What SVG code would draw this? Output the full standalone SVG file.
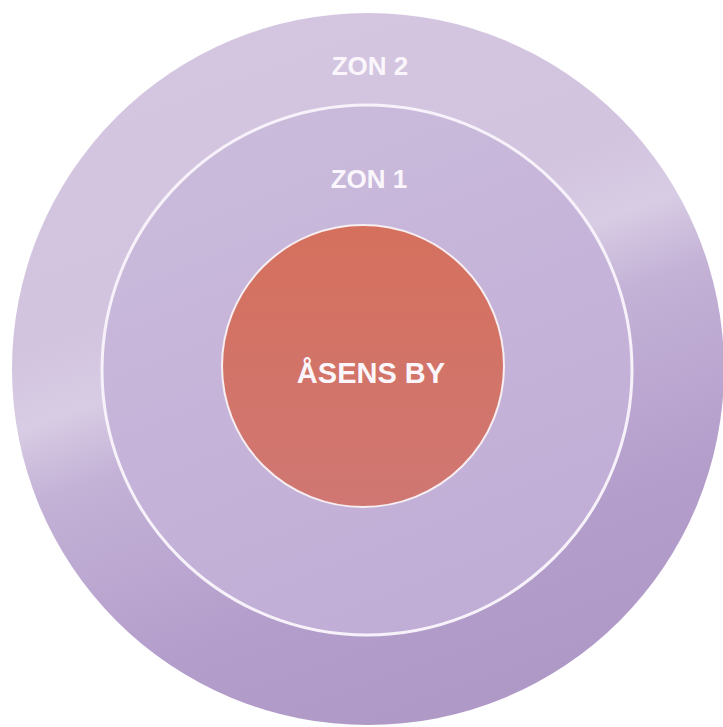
<svg xmlns="http://www.w3.org/2000/svg" width="723" height="727" viewBox="0 0 723 727">
  <defs>
    <linearGradient id="gOuter" x1="0.32" y1="0" x2="0.68" y2="1">
      <stop offset="0" stop-color="#d4c6e1"/>
      <stop offset="0.32" stop-color="#d2c3df"/>
      <stop offset="0.42" stop-color="#d8cce4"/>
      <stop offset="0.52" stop-color="#c3b1d6"/>
      <stop offset="0.78" stop-color="#b39dcb"/>
      <stop offset="1" stop-color="#ae98c6"/>
    </linearGradient>
    <linearGradient id="gMid" x1="0.3" y1="0" x2="0.7" y2="1">
      <stop offset="0" stop-color="#cabbdb"/>
      <stop offset="0.5" stop-color="#c5b3d9"/>
      <stop offset="1" stop-color="#bfadd6"/>
    </linearGradient>
    <linearGradient id="gInner" x1="0" y1="0" x2="0" y2="1">
      <stop offset="0" stop-color="#d5705d"/>
      <stop offset="1" stop-color="#d07773"/>
    </linearGradient>
  </defs>
  <style>
    .lbl { font-family: "Liberation Sans", Arial, sans-serif; font-weight: bold; fill: #faf6fb; text-anchor: middle; }
  </style>
  <rect width="723" height="727" fill="#ffffff"/>
  <g id="zon2">
    <circle cx="368" cy="369" r="356" fill="url(#gOuter)"/>
    <text class="lbl" x="370" y="75" font-size="26">ZON 2</text>
  </g>
  <g id="zon1">
    <circle cx="367" cy="370" r="265" fill="url(#gMid)" stroke="#f7f2fa" stroke-width="3"/>
    <text class="lbl" x="369" y="188" font-size="26">ZON 1</text>
  </g>
  <g id="asens-by">
    <circle cx="363" cy="366" r="141" fill="url(#gInner)" stroke="#f7eef2" stroke-width="2"/>
    <text class="lbl" x="371" y="383" font-size="29">ÅSENS BY</text>
  </g>
</svg>
